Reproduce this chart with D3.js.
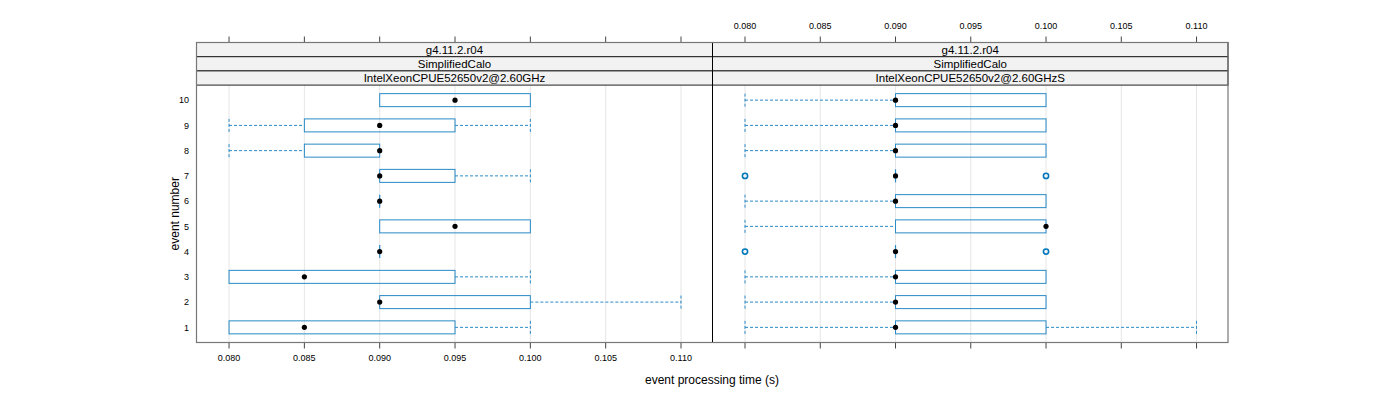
<!DOCTYPE html>
<html><head><meta charset="utf-8">
<script src="https://cdn.jsdelivr.net/npm/d3@7"></script>
<style>body{margin:0;background:#fff;} svg{display:block;font-family:"Liberation Sans",Arial,sans-serif;}</style>
</head><body><svg id="c" width="1400" height="400"></svg>
<script>
const events = [1,2,3,4,5,6,7,8,9,10];
const xTicks = [0.080,0.085,0.090,0.095,0.100,0.105,0.110];
const stripLabels = [
  ["g4.11.2.r04","SimplifiedCalo","IntelXeonCPUE52650v2@2.60GHz"],
  ["g4.11.2.r04","SimplifiedCalo","IntelXeonCPUE52650v2@2.60GHzS"]
];
// per event: [whiskerLow, q1, median, q3, whiskerHigh]
const statsLeft = [
  [0.080,0.080,0.085,0.095,0.100],
  [0.090,0.090,0.090,0.100,0.110],
  [0.080,0.080,0.085,0.095,0.100],
  [0.090,0.090,0.090,0.090,0.090],
  [0.090,0.090,0.095,0.100,0.100],
  [0.090,0.090,0.090,0.090,0.090],
  [0.090,0.090,0.090,0.095,0.100],
  [0.080,0.085,0.090,0.090,0.090],
  [0.080,0.085,0.090,0.095,0.100],
  [0.090,0.090,0.095,0.100,0.100]
];
const statsRight = [
  [0.080,0.090,0.090,0.100,0.110],
  [0.080,0.090,0.090,0.100,0.100],
  [0.080,0.090,0.090,0.100,0.100],
  [0.090,0.090,0.090,0.090,0.090],
  [0.080,0.090,0.100,0.100,0.100],
  [0.080,0.090,0.090,0.100,0.100],
  [0.090,0.090,0.090,0.090,0.090],
  [0.080,0.090,0.090,0.100,0.100],
  [0.080,0.090,0.090,0.100,0.100],
  [0.080,0.090,0.090,0.100,0.100]
];
const outliersLeft = [];
const outliersRight = [[4,0.080],[4,0.100],[7,0.080],[7,0.100]];

const svg = d3.select("#c");
const pTop = 85, pBottom = 342.5, stripTop = 42.5, stripH = 14.2;
const panels = [
  {x0:196.5, x1:712.5, stats:statsLeft, out:outliersLeft, strips:stripLabels[0]},
  {x0:712.5, x1:1228, stats:statsRight, out:outliersRight, strips:stripLabels[1]}
];
const y = d3.scaleLinear().domain([0.4,10.6]).range([pBottom, pTop]);
const boxCol = "#2a8ac6", outCol = "#0077bb";
const bh = 13;

panels.forEach((p,pi)=>{
  const x = d3.scaleLinear().domain([0.07784,0.11209]).range([p.x0,p.x1]);
  const g = svg.append("g");
  g.selectAll("line.grid").data(xTicks).join("line")
    .attr("x1",d=>x(d)).attr("x2",d=>x(d)).attr("y1",pTop).attr("y2",pBottom)
    .attr("stroke","#e6e6e6").attr("stroke-width",1);
  p.strips.forEach((s,i)=>{
    const sy = stripTop + i*stripH;
    g.append("rect").attr("x",p.x0).attr("y",sy).attr("width",p.x1-p.x0).attr("height",stripH)
      .attr("fill","#f2f2f2").attr("stroke","#222").attr("stroke-width",1);
    g.append("text").attr("x",(p.x0+p.x1)/2).attr("y",sy+stripH/2).attr("dy","0.35em")
      .attr("text-anchor","middle").attr("font-size",11.5).attr("fill","#000").text(s);
  });
  p.stats.forEach((s,i)=>{
    const ev = events[i], cy = y(ev);
    const [lo,q1,med,q3,hi] = s;
    const dash = "3,2";
    if (lo < q1) {
      g.append("line").attr("x1",x(lo)).attr("x2",x(q1)).attr("y1",cy).attr("y2",cy)
        .attr("stroke",boxCol).attr("stroke-dasharray",dash);
      g.append("line").attr("x1",x(lo)).attr("x2",x(lo)).attr("y1",cy-bh/2).attr("y2",cy+bh/2)
        .attr("stroke",boxCol).attr("stroke-dasharray",dash);
    }
    if (hi > q3) {
      g.append("line").attr("x1",x(q3)).attr("x2",x(hi)).attr("y1",cy).attr("y2",cy)
        .attr("stroke",boxCol).attr("stroke-dasharray",dash);
      g.append("line").attr("x1",x(hi)).attr("x2",x(hi)).attr("y1",cy-bh/2).attr("y2",cy+bh/2)
        .attr("stroke",boxCol).attr("stroke-dasharray",dash);
    }
    if (q3 > q1) {
      g.append("rect").attr("x",x(q1)).attr("y",cy-bh/2).attr("width",x(q3)-x(q1)).attr("height",bh)
        .attr("fill","none").attr("stroke",boxCol).attr("stroke-width",1);
    } else {
      g.append("line").attr("x1",x(q1)).attr("x2",x(q1)).attr("y1",cy-bh/2).attr("y2",cy+bh/2)
        .attr("stroke",boxCol).attr("stroke-width",1.2);
    }
    g.append("circle").attr("cx",x(med)).attr("cy",cy).attr("r",2.6).attr("fill","#000");
  });
  p.out.forEach(([ev,v])=>{
    g.append("circle").attr("cx",x(v)).attr("cy",y(ev)).attr("r",2.6)
      .attr("fill","none").attr("stroke",outCol).attr("stroke-width",1.6);
  });
  const tickG = svg.append("g");
  xTicks.forEach(t=>{
    tickG.append("line").attr("x1",x(t)).attr("x2",x(t)).attr("y1",pBottom).attr("y2",pBottom+6).attr("stroke","#444");
    tickG.append("line").attr("x1",x(t)).attr("x2",x(t)).attr("y1",stripTop).attr("y2",stripTop-6).attr("stroke","#444");
    if (pi===0) {
      tickG.append("text").attr("x",x(t)).attr("y",pBottom+15).attr("dy","0.35em").attr("text-anchor","middle")
        .attr("font-size",9).attr("fill","#000").text(d3.format(".3f")(t));
    } else {
      tickG.append("text").attr("x",x(t)).attr("y",stripTop-17).attr("dy","0.35em").attr("text-anchor","middle")
        .attr("font-size",9).attr("fill","#000").text(d3.format(".3f")(t));
    }
  });
});
svg.append("line").attr("x1",712.5).attr("x2",712.5).attr("y1",stripTop).attr("y2",pBottom).attr("stroke","#000");
svg.append("rect").attr("x",196.5).attr("y",stripTop).attr("width",1228-196.5).attr("height",pBottom-stripTop)
  .attr("fill","none").attr("stroke","#777").attr("stroke-width",1.2);
svg.append("g").selectAll("text").data(events).join("text")
  .attr("x",189).attr("y",d=>y(d)).attr("dy","0.35em").attr("text-anchor","end")
  .attr("font-size",9).attr("fill","#000").text(d=>d);
svg.append("text").attr("transform","translate(175,"+((pTop+pBottom)/2)+") rotate(-90)")
  .attr("text-anchor","middle").attr("dy","0.35em").attr("font-size",12).attr("fill","#000").text("event number");
svg.append("text").attr("x",712).attr("y",380).attr("dy","0.35em").attr("text-anchor","middle")
  .attr("font-size",12).attr("fill","#000").text("event processing time (s)");
</script></body></html>
